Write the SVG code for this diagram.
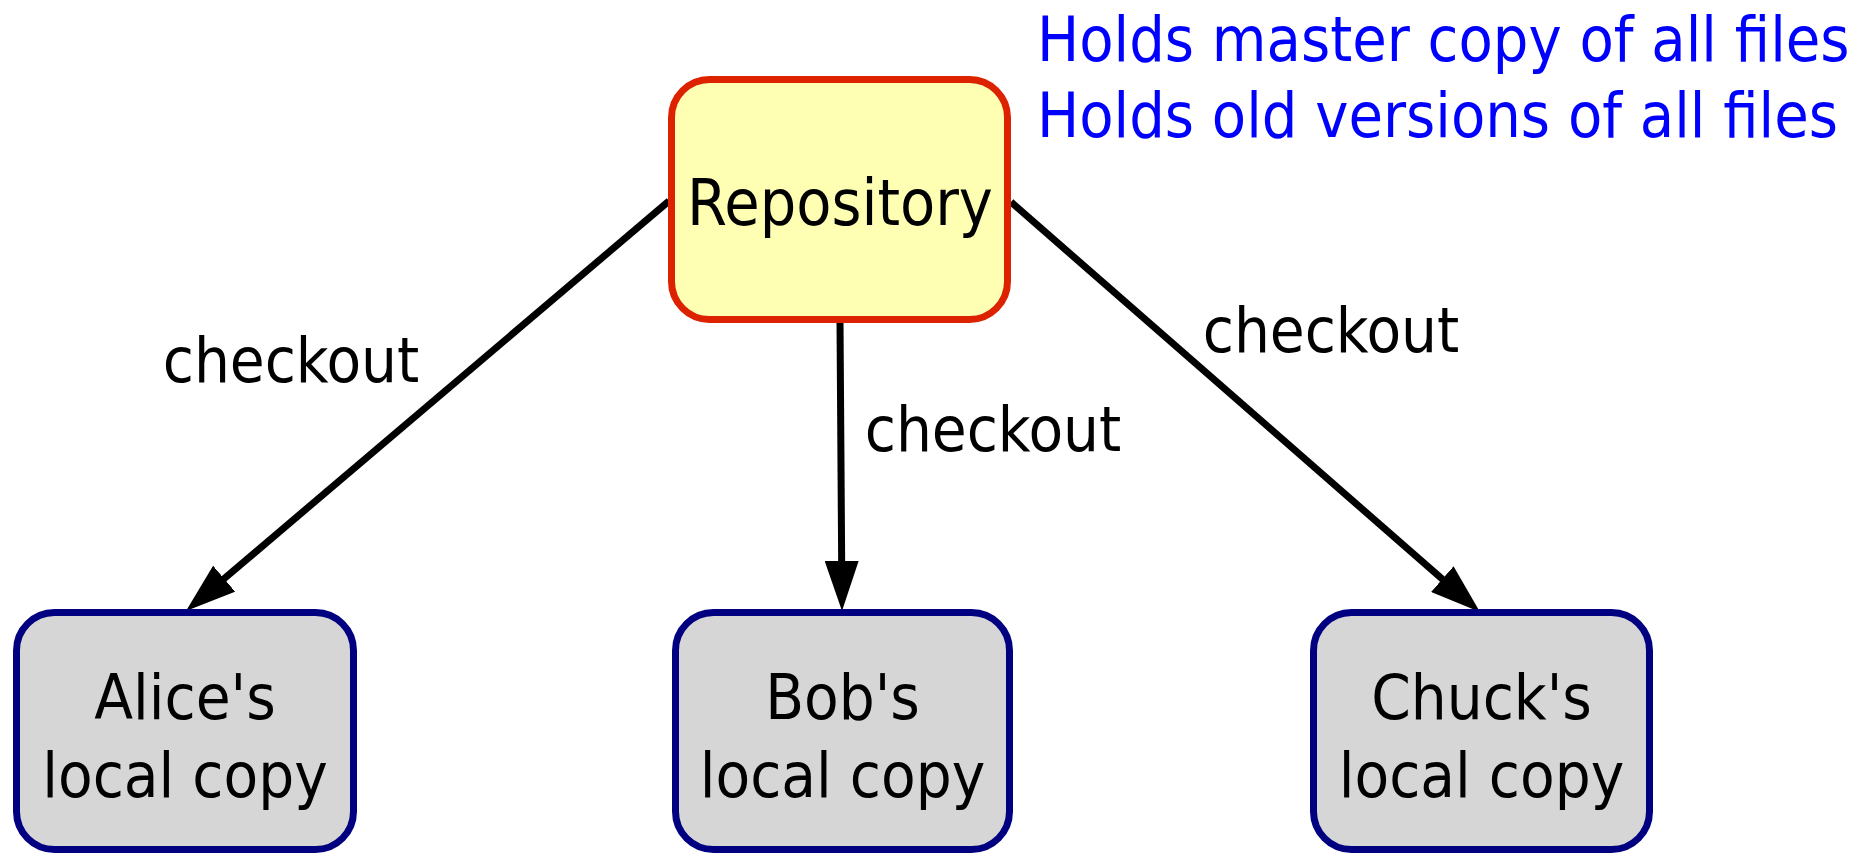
<svg xmlns="http://www.w3.org/2000/svg" width="1871" height="854" viewBox="0 0 1871 854">
<style>
text{font-family:"DejaVu Sans Condensed","DejaVu Sans",sans-serif;font-stretch:condensed;font-size:63px;fill:#000}
.repo{fill:#ffffb3;stroke:#dd2200;stroke-width:7}
.local{fill:#d6d6d6;stroke:#000080;stroke-width:7}
.edge{stroke:#000;stroke-width:7;fill:none;marker-end:url(#arr)}
.note{fill:#0000ff;font-size:62.4px}
</style>
<defs>
<marker id="arr" markerUnits="userSpaceOnUse" viewBox="0 -17 50 34" markerWidth="50" markerHeight="34" refX="5" refY="0" orient="auto">
<path d="M0,-17 L50,0 L0,17 z" fill="#000"/>
</marker>
</defs>
<rect width="1871" height="854" fill="#fff"/>
<g id="connectors">
<line class="edge" x1="669" y1="201" x2="220.3" y2="581.9"/>
<line class="edge" x1="840" y1="321" x2="841.7" y2="566"/>
<line class="edge" x1="1011" y1="202" x2="1446.1" y2="582.4"/>
<text x="291" y="382" text-anchor="middle">checkout</text>
<text x="993" y="451" text-anchor="middle">checkout</text>
<text x="1331" y="352" text-anchor="middle">checkout</text>
</g>
<g id="repository">
<rect class="repo" x="671.5" y="79.5" width="336" height="240" rx="38"/>
<text x="840" y="225" text-anchor="middle" style="font-size:64px">Repository</text>
</g>
<g id="note">
<text class="note" x="1037" y="61">Holds master copy of all files</text>
<text class="note" x="1037" y="137">Holds old versions of all files</text>
</g>
<g id="alice">
<rect class="local" x="16.5" y="612.5" width="337" height="237" rx="38"/>
<text x="185" y="719" text-anchor="middle">Alice's</text>
<text x="185" y="797" text-anchor="middle">local copy</text>
</g>
<g id="bob">
<rect class="local" x="675.5" y="612.5" width="334" height="237" rx="38"/>
<text x="842.5" y="719" text-anchor="middle">Bob's</text>
<text x="842.5" y="797" text-anchor="middle">local copy</text>
</g>
<g id="chuck">
<rect class="local" x="1313.5" y="612.5" width="336" height="237" rx="38"/>
<text x="1481.5" y="719" text-anchor="middle">Chuck's</text>
<text x="1481.5" y="797" text-anchor="middle">local copy</text>
</g>
</svg>
